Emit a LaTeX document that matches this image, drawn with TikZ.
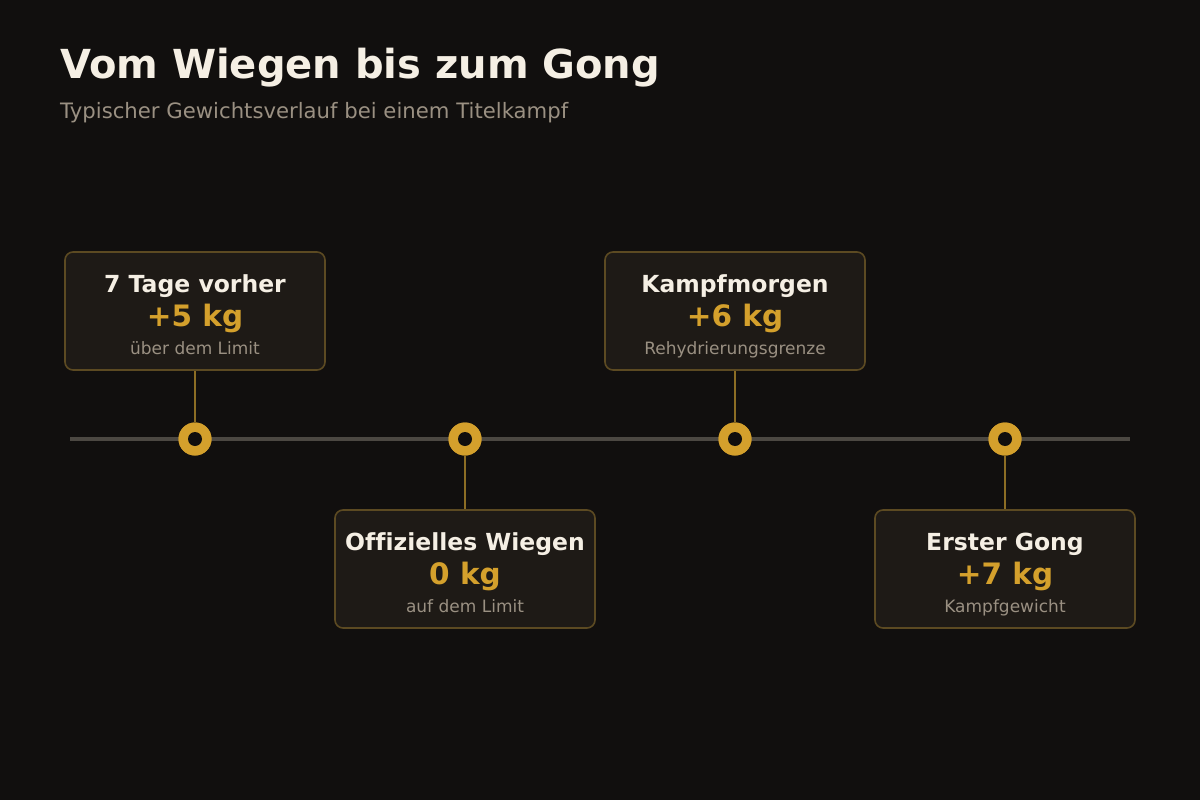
\documentclass[tikz,border=0pt]{standalone}
\usepackage{fontspec}
\setmainfont{DejaVu Sans}[Ligatures=NoCommon]
\definecolor{bg}{HTML}{110F0E}
\definecolor{boxfill}{HTML}{1E1A16}
\definecolor{boxline}{HTML}{5C4A22}
\definecolor{gold}{HTML}{D4A02C}
\definecolor{stem}{HTML}{8C6D24}
\definecolor{axis}{HTML}{4C4842}
\definecolor{titlec}{HTML}{F5EFE4}
\definecolor{subc}{HTML}{9A9082}
\tikzset{
  x=1pt, y=-1pt,
  card/.style={draw=boxline, line width=1.6pt, fill=boxfill, rounded corners=8pt, minimum width=260pt, minimum height=118pt, inner sep=0pt},
  cardtitle/.style={text=titlec, font=\fontsize{23.5}{27}\selectfont\bfseries, anchor=base},
  cardval/.style={text=gold, font=\fontsize{29.5}{33}\selectfont\bfseries, anchor=base},
  cardsub/.style={text=subc, font=\fontsize{17}{20}\selectfont, anchor=base},
  stemline/.style={draw=stem, line width=2.5pt},
  ring/.style={circle, fill=gold, minimum size=33pt, inner sep=0pt},
  hole/.style={circle, fill=bg, minimum size=14pt, inner sep=0pt},
}
\begin{document}
\begin{tikzpicture}
\fill[bg] (0,0) rectangle (1200,800);
\useasboundingbox (0,0) rectangle (1200,800);
\node[anchor=base west, text=titlec, font=\fontsize{40}{46}\selectfont\bfseries, inner sep=0pt] (title) at (60,79) {Vom Wiegen bis zum Gong};
\node[anchor=base west, text=subc, font=\fontsize{21.2}{25}\selectfont, inner sep=0pt] (subtitle) at (60,118) {Typischer Gewichtsverlauf bei einem Titelkampf};
\coordinate (axl) at (70,439);
\coordinate (axr) at (1130,439);
\draw[axis, line width=3.5pt] (axl) -- (axr);
% cards
\node[card] (c1) at (195,311) {};
\node[card] (c2) at (465,569) {};
\node[card] (c3) at (735,311) {};
\node[card] (c4) at (1005,569) {};
% points
\foreach \i/\x in {1/195,2/465,3/735,4/1005} {
  \node[ring] (p\i) at (\x,439) {};
}
\draw[stemline] (c1.south) -- (p1.north);
\draw[stemline] (c2.north) -- (p2.south);
\draw[stemline] (c3.south) -- (p3.north);
\draw[stemline] (c4.north) -- (p4.south);
\foreach \i in {1,2,3,4} {
  \node[ring] (q\i) at (p\i) {};
  \node[hole] (h\i) at (p\i) {};
}
% texts
\node[cardtitle] (t1) at (195,292) {7 Tage vorher};
\node[cardval] (v1) at (195,326) {+5 kg};
\node[cardsub] (s1) at (195,354) {über dem Limit};
\node[cardtitle] (t2) at (465,550) {Offizielles Wiegen};
\node[cardval] (v2) at (465,584) {0 kg};
\node[cardsub] (s2) at (465,612) {auf dem Limit};
\node[cardtitle] (t3) at (735,292) {Kampfmorgen};
\node[cardval] (v3) at (735,326) {+6 kg};
\node[cardsub] (s3) at (735,354) {Rehydrierungsgrenze};
\node[cardtitle] (t4) at (1005,550) {Erster Gong};
\node[cardval] (v4) at (1005,584) {+7 kg};
\node[cardsub] (s4) at (1005,612) {Kampfgewicht};
\end{tikzpicture}
\end{document}
